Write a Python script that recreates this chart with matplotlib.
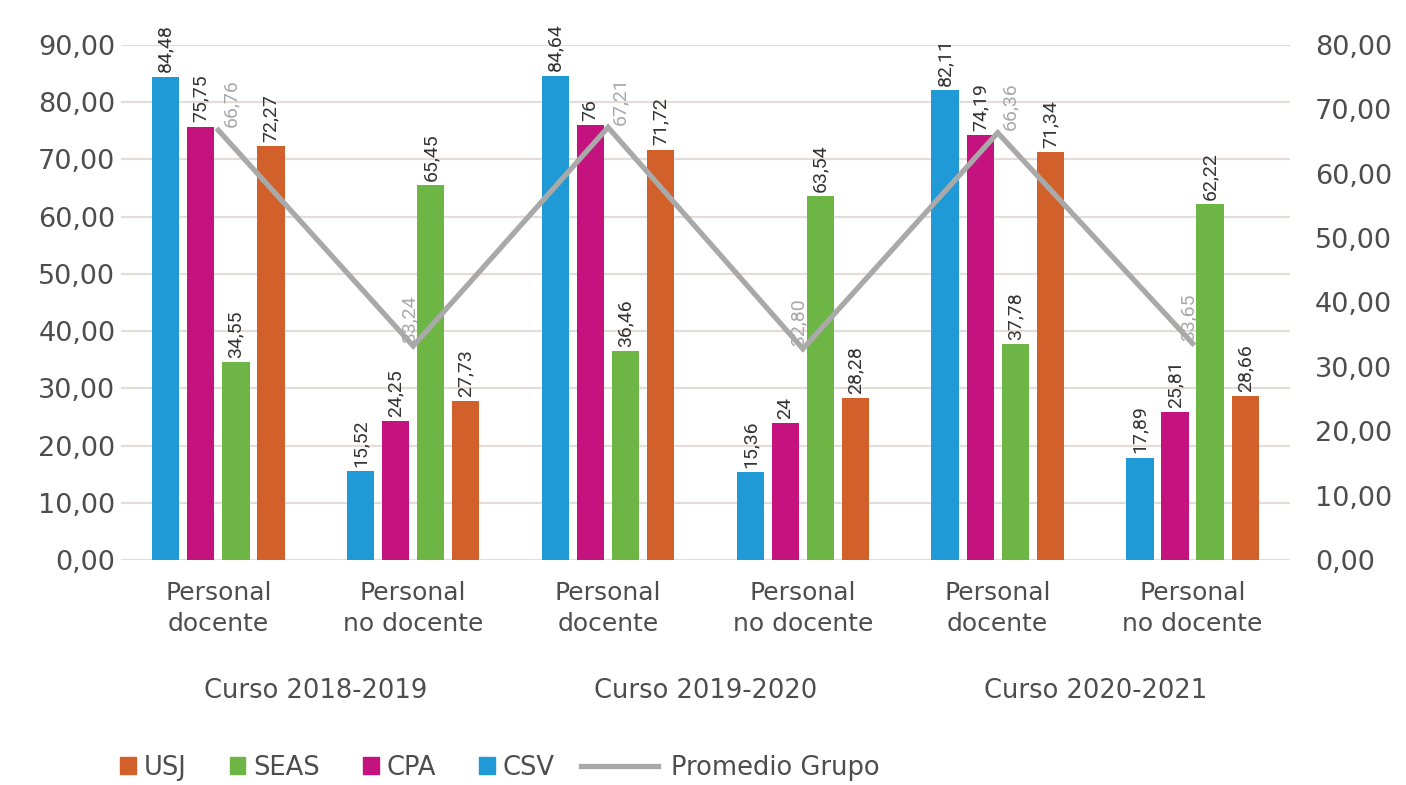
import matplotlib
matplotlib.use("Agg")
import matplotlib.pyplot as plt
from matplotlib.lines import Line2D
from matplotlib.patches import Patch
import numpy as np

# Data
categories = ["Personal\ndocente", "Personal\nno docente"] * 3
cursos = ["Curso 2018-2019", "Curso 2019-2020", "Curso 2020-2021"]

csv_vals = [84.48, 15.52, 84.64, 15.36, 82.11, 17.89]
cpa_vals = [75.75, 24.25, 76.00, 24.00, 74.19, 25.81]
seas_vals = [34.55, 65.45, 36.46, 63.54, 37.78, 62.22]
usj_vals = [72.27, 27.73, 71.72, 28.28, 71.34, 28.66]
promedio = [66.76, 33.24, 67.21, 32.80, 66.36, 33.65]

left_ticks = np.arange(0, 91, 10)
right_ticks = np.arange(0, 81, 10)

COLORS = {
    "CSV": "#1f9ad6",
    "CPA": "#c4127f",
    "SEAS": "#6db544",
    "USJ": "#d2602a",
}
LINE_COLOR = "#a9a9a9"
TEXT_COLOR = "#4d4d4d"
GRID_COLOR = "#e3dcd8"

label_font = ["Roboto", "DejaVu Sans"]
tick_font = ["DejaVu Sans"]


def fmt(v, force_dec=False):
    if not force_dec and float(v).is_integer():
        return "%d" % v
    return ("%.2f" % v).replace(".", ",")


fig = plt.figure(figsize=(14.06, 7.85), dpi=100)
ax = fig.add_axes([0.086, 0.2866, 0.8315, 0.6561])
ax2 = ax.twinx()

x = np.arange(len(categories))
width = 0.14
step = 0.18
series = [("CSV", csv_vals), ("CPA", cpa_vals), ("SEAS", seas_vals), ("USJ", usj_vals)]

for i, (name, vals) in enumerate(series):
    offs = (i - 1.5) * step
    ax.bar(x + offs, vals, width=width, color=COLORS[name], zorder=2)
    for xi, v in zip(x, vals):
        ax.annotate(fmt(v), xy=(xi + offs, v), xytext=(0, 3),
                    textcoords="offset points", rotation=90,
                    ha="center", va="bottom", fontsize=14,
                    family=label_font, color="#333333", zorder=3)

ax.set_xlim(-0.5, len(categories) - 0.5)
ax.set_ylim(0, 90)
ax.set_yticks(left_ticks)
ax.set_yticklabels([fmt(t, True) for t in left_ticks],
                   fontsize=19.5, color=TEXT_COLOR, family=tick_font)
ax.yaxis.grid(True, color=GRID_COLOR, linewidth=1.6, zorder=0)
ax.set_axisbelow(True)
ax.set_xticks(x)
ax.set_xticklabels(categories, fontsize=18, color=TEXT_COLOR,
                   family=tick_font, linespacing=1.35)
ax.tick_params(axis="x", length=0, pad=15)
ax.tick_params(axis="y", length=0, pad=4)
for s in ax.spines.values():
    s.set_visible(False)

# average line on the secondary axis
ax2.plot(x, promedio, color=LINE_COLOR, linewidth=3.8, zorder=5,
         solid_joinstyle="miter")
ax2.set_ylim(0, 80)
ax2.set_yticks(right_ticks)
ax2.set_yticklabels([fmt(t, True) for t in right_ticks],
                    fontsize=19.5, color=TEXT_COLOR, family=tick_font)
ax2.tick_params(axis="y", length=0, pad=18)
for s in ax2.spines.values():
    s.set_visible(False)
for i, (xi, v) in enumerate(zip(x, promedio)):
    dx = 9 if i % 2 == 0 else -3
    ax2.annotate(fmt(v, True), xy=(xi, v), xytext=(dx, 2),
                 textcoords="offset points", rotation=90,
                 ha="center", va="bottom", fontsize=14,
                 family=label_font, color="#a8a8a8", zorder=6)

# course group labels
for k, curso in enumerate(cursos):
    ax.text(2 * k + 0.5, -0.255, curso, transform=ax.get_xaxis_transform(),
            ha="center", va="center", fontsize=18.5, color=TEXT_COLOR,
            family=tick_font)

# legend: squares for the bars, a longer stroke for the line
patch_handles = [
    Patch(color=COLORS["USJ"], label="USJ"),
    Patch(color=COLORS["SEAS"], label="SEAS"),
    Patch(color=COLORS["CPA"], label="CPA"),
    Patch(color=COLORS["CSV"], label="CSV"),
]
leg1 = fig.legend(handles=patch_handles, loc="lower left",
                  bbox_to_anchor=(0.069, -0.024), ncol=4, frameon=False,
                  fontsize=18.5, handlelength=0.6, handleheight=0.6,
                  handletextpad=0.3, columnspacing=1.7)
line_handle = [Line2D([0], [0], color=LINE_COLOR, linewidth=3.8,
                      label="Promedio Grupo")]
leg2 = fig.legend(handles=line_handle, loc="lower left",
                  bbox_to_anchor=(0.397, -0.024), frameon=False,
                  fontsize=18.5, handlelength=3.0, handletextpad=0.5)
for leg in (leg1, leg2):
    for t in leg.get_texts():
        t.set_color(TEXT_COLOR)
        t.set_family(tick_font)

fig.savefig("out.png", dpi=100, facecolor="white")
